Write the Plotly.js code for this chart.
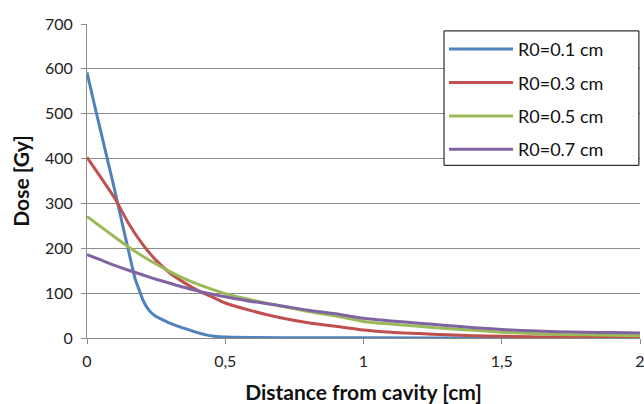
<!DOCTYPE html>
<html>
<head>
<meta charset="utf-8">
<script src="https://cdn.plot.ly/plotly-3.0.1.min.js"></script>
<style>html,body{margin:0;padding:0;background:#fff;}#chart{width:644px;height:404px;}</style>
</head>
<body>
<div id="chart"></div>
<script>
// Data
const seriesNames = ["R0=0.1 cm", "R0=0.3 cm", "R0=0.5 cm", "R0=0.7 cm"];
const seriesColors = ["#4F81BD", "#C0504D", "#9BBB59", "#8064A2"];

const xBlue = [0, 0.025, 0.05, 0.075, 0.1, 0.125, 0.15, 0.175, 0.19, 0.2, 0.215, 0.23, 0.25, 0.276, 0.3, 0.33, 0.37, 0.4, 0.43, 0.46, 0.5, 0.6, 0.8, 1.0, 1.5, 2.0];
const yBlue = [592, 525, 460, 395, 330, 262, 195, 130, 105, 88, 70, 58, 48, 40, 33, 26, 18, 12, 7, 4, 2, 1, 0.5, 0.3, 0.1, 0];

const xCommon = [0, 0.05, 0.1, 0.15, 0.2, 0.25, 0.3, 0.35, 0.4, 0.45, 0.5, 0.6, 0.7, 0.8, 0.9, 1.0, 1.1, 1.2, 1.3, 1.4, 1.5, 1.6, 1.7, 1.8, 1.9, 2.0];
const yRed    = [403, 358, 312, 256, 210, 173, 145, 124, 106, 92, 78, 60, 45, 34, 26, 18, 13, 10, 7, 5, 4, 3, 2, 2, 1, 1];
const yGreen  = [271, 248, 225, 203, 183, 165, 148, 133, 120, 109, 99, 84, 71, 59, 49, 37, 31, 26, 21, 17, 13, 10, 8, 7, 6, 5];
const yPurple = [186, 174, 162, 151, 141, 131, 122, 113, 105, 98, 92, 81, 72, 62, 54, 44, 38, 33, 28, 23, 19, 16, 14, 13, 12, 11];

const xTickVals = [0, 0.5, 1, 1.5, 2];
const xTickText = ["0", "0,5", "1", "1,5", "2"];

const xs = [xBlue, xCommon, xCommon, xCommon];
const ys = [yBlue, yRed, yGreen, yPurple];

const traces = ys.map((y, i) => ({
  x: xs[i], y: y, type: "scatter", mode: "lines",
  name: seriesNames[i], legendgroup: "g" + i,
  line: {color: seriesColors[i], width: 3, shape: "spline", smoothing: 0.6}
}));

const font = "Lato, 'Liberation Sans', sans-serif";
const layout = {
  width: 644, height: 404,
  margin: {l: 87, r: 4, t: 24, b: 66},
  paper_bgcolor: "#fff", plot_bgcolor: "#fff",
  font: {family: font, size: 16, color: "#222"},
  showlegend: true,
  legend: {
    x: 0.6456, y: 0.978, xanchor: "left", yanchor: "top",
    bgcolor: "rgba(0,0,0,0)", borderwidth: 0,
    font: {family: font, size: 18, color: "#111"},
    traceorder: "grouped", tracegroupgap: 7, itemwidth: 64
  },
  // legend frame (wider box, as in the reference)
  shapes: [{
    type: "rect", xref: "paper", yref: "paper",
    x0: 0.6456, x1: 0.998, y0: 0.55, y1: 0.978,
    line: {color: "#000", width: 1}, fillcolor: "#fff", layer: "above"
  }],
  xaxis: {
    range: [0, 2], tickvals: xTickVals, ticktext: xTickText,
    showgrid: false, zeroline: false,
    showline: true, linecolor: "#8c8c8c", linewidth: 1,
    ticks: "outside", ticklen: 5, tickcolor: "#8c8c8c",
    ticklabeloverflow: "allow", ticklabelstandoff: 4,
    tickfont: {family: font, size: 16, color: "#222"},
    title: {text: "<b>Distance from cavity [cm]</b>", font: {family: font, size: 21, color: "#111"}, standoff: 17},
    fixedrange: true
  },
  yaxis: {
    range: [0, 700], dtick: 100, tick0: 0,
    showgrid: true, gridcolor: "#8c8c8c", gridwidth: 1,
    zeroline: false, showline: true, linecolor: "#8c8c8c", linewidth: 1,
    ticks: "outside", ticklen: 5, tickcolor: "#8c8c8c",
    ticklabelstandoff: 5,
    tickfont: {family: font, size: 16, color: "#222"},
    title: {text: "<b>Dose [Gy]</b>", font: {family: font, size: 21, color: "#111"}, standoff: 9},
    fixedrange: true
  }
};

Plotly.newPlot("chart", traces, layout, {staticPlot: true, displayModeBar: false});
</script>
</body>
</html>
